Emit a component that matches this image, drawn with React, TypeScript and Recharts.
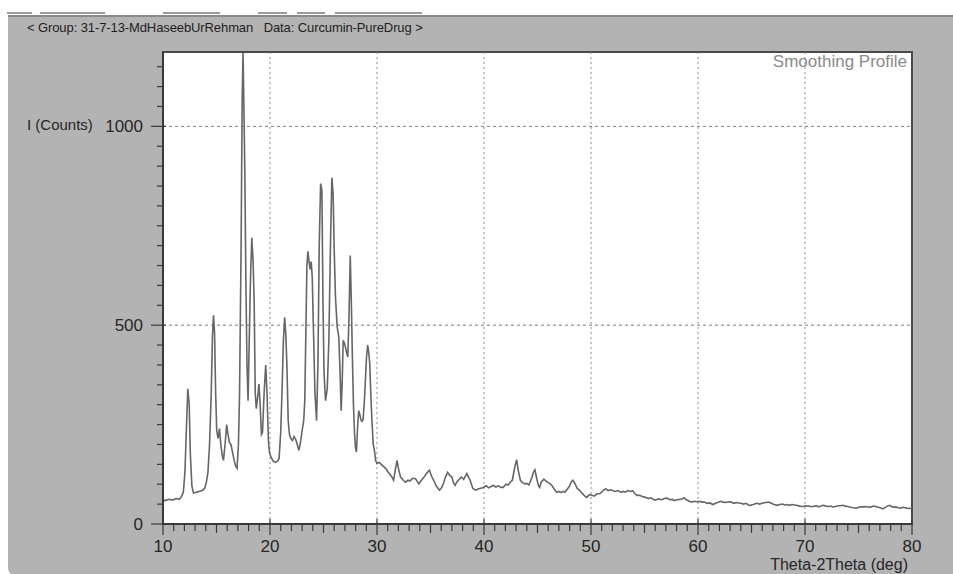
import { CartesianGrid, Line, LineChart, ReferenceArea, ReferenceLine, XAxis, YAxis } from 'recharts'

// XRD scan, curcumin pure drug: 2θ (deg) vs intensity (counts)
const PEAK_THETA = [
  10.0, 10.3, 10.6, 10.9, 11.2, 11.5, 11.7, 11.9, 12.05, 12.2, 12.32, 12.45, 12.55, 12.7, 12.85, 13.1, 13.4, 13.7, 13.9,
  14.05, 14.2, 14.35, 14.5, 14.62, 14.72, 14.82, 14.92, 15.02, 15.15, 15.28, 15.4, 15.55, 15.65, 15.8, 15.95, 16.05, 16.2,
  16.35, 16.5, 16.65, 16.8, 16.92, 17.05, 17.15, 17.3, 17.4, 17.48, 17.56, 17.65, 17.75, 17.85, 17.95, 18.05, 18.18, 18.3,
  18.42, 18.52, 18.62, 18.72, 18.85, 18.97, 19.08, 19.2, 19.3, 19.45, 19.6, 19.72, 19.85, 19.95, 20.1, 20.3, 20.5, 20.7,
  20.85, 21.0, 21.12, 21.25, 21.37, 21.47, 21.58, 21.7, 21.82, 21.95, 22.1, 22.25, 22.4, 22.55, 22.7, 22.85, 23.0, 23.15,
  23.25, 23.35, 23.45, 23.54, 23.65, 23.75, 23.85, 23.95, 24.05, 24.2, 24.35, 24.48, 24.6, 24.73, 24.85, 24.95, 25.05,
  25.19, 25.35, 25.5, 25.65, 25.78, 25.9, 26.0, 26.12, 26.28, 26.43, 26.55, 26.65, 26.75, 26.84, 26.95, 27.05, 27.17,
  27.27, 27.38, 27.5, 27.6, 27.7, 27.8, 27.9, 28.0, 28.08, 28.18, 28.29, 28.4, 28.5, 28.6, 28.7, 28.8, 28.9, 29.02, 29.13,
  29.23, 29.32, 29.43, 29.54, 29.65, 29.76, 29.87,
]
const PEAK_COUNTS = [
  58, 60, 62, 60, 64, 62, 68, 80, 130, 250, 340, 300, 180, 95, 78, 80, 82, 85, 90,
  105, 130, 200, 320, 470, 525, 480, 330, 235, 215, 240, 200, 170, 160, 200, 250, 230, 205,
  200, 180, 160, 145, 140, 200, 320, 700, 1070, 1185, 1050, 880, 600, 400, 310, 450, 620, 720,
  660, 560, 330, 290, 320, 352, 300, 225, 230, 330, 400, 330, 210, 180, 168, 158, 155, 158,
  165, 230, 330, 460, 520, 480, 400, 260, 225, 215, 210, 220, 213, 200, 185, 205, 235, 260,
  310, 480, 650, 686, 660, 640, 660, 620, 500, 330, 260, 400, 700, 856, 840, 560, 380,
  310, 340, 460, 700, 871, 830, 690, 570, 495, 470, 380, 285, 360, 462, 455, 445, 430,
  420, 520, 675, 560, 420, 300, 227, 190, 181, 240, 285, 275, 262, 258, 262, 300, 352, 420, 450,
  430, 405, 320, 252, 200, 185, 160,
]

const TAIL_THETA = [
  30.0, 30.2, 30.4, 30.6, 30.8, 31.0, 31.2, 31.4, 31.55, 31.7, 31.87, 32.0, 32.2, 32.4, 32.65, 32.9, 33.1, 33.3, 33.6,
  33.9, 34.15, 34.4, 34.65, 34.9, 35.1, 35.3, 35.55, 35.85, 36.05, 36.2, 36.4, 36.6, 36.8, 37.0, 37.15, 37.3, 37.45, 37.6,
  37.75, 37.9, 38.1, 38.25, 38.4, 38.55, 38.7, 38.95, 39.2, 39.45, 39.7, 39.95, 40.2, 40.45, 40.7, 40.9, 41.1, 41.35, 41.6,
  41.8, 42.05, 42.25, 42.45, 42.65, 42.85, 43.05, 43.2, 43.4, 43.6, 43.85, 44.0, 44.2, 44.45, 44.62, 44.76, 44.95, 45.1,
  45.2, 45.35, 45.6, 45.8, 46.0, 46.2, 46.4, 46.6, 46.8, 47.0, 47.2, 47.4, 47.56, 47.8, 48.0, 48.15, 48.3, 48.5, 48.7,
  48.95, 49.15, 49.35, 49.6, 49.85, 50.1, 50.3, 50.55, 50.8, 51.0, 51.2, 51.4, 51.6, 51.8, 52.0, 52.25, 52.5, 52.8, 53.0,
  53.2, 53.45, 53.7, 53.9, 54.1, 54.3, 54.55, 54.8, 55.1, 55.35, 55.6, 55.8, 56.0, 56.3, 56.6, 56.85, 57.1, 57.35, 57.6,
  57.8, 58.05, 58.3, 58.5, 58.7, 58.9, 59.15, 59.4, 59.65, 59.9, 60.15, 60.4, 60.6, 60.85, 61.1, 61.4, 61.65, 61.9, 62.1,
  62.35, 62.6, 62.85, 63.1, 63.35, 63.6, 63.8, 64.0, 64.25, 64.5, 64.7, 64.9, 65.15, 65.35, 65.5, 65.75, 66.0, 66.3, 66.6,
  66.85, 67.1, 67.4, 67.65, 67.9, 68.1, 68.3, 68.55, 68.8, 69.0, 69.2, 69.5, 69.8, 70.05, 70.3, 70.55, 70.8, 71.05, 71.3,
  71.5, 71.7, 71.95, 72.2, 72.4, 72.6, 72.85, 73.1, 73.3, 73.5, 73.75, 74.0, 74.25, 74.5, 74.8, 75.0, 75.25, 75.5, 75.7,
  75.95, 76.2, 76.4, 76.6, 76.85, 77.1, 77.3, 77.5, 77.7, 77.9, 78.1, 78.3, 78.5, 78.7, 78.95, 79.2, 79.5, 79.75, 80.0,
]
const TAIL_COUNTS = [
  152, 155, 150, 145, 140, 132, 125, 118, 110, 135, 160, 140, 118, 112, 105, 110, 108, 115, 114,
  101, 110, 118, 128, 135, 120, 110, 95, 85, 92, 101, 118, 130, 122, 118, 104, 97, 105, 110,
  114, 118, 112, 120, 127, 118, 110, 90, 85, 88, 90, 92, 96, 91, 95, 97, 93, 96, 92,
  92, 100, 98, 105, 110, 140, 162, 135, 110, 104, 101, 102, 98, 115, 130, 136, 112, 96,
  92, 105, 113, 108, 104, 101, 95, 86, 80, 82, 79, 82, 80, 88, 96, 106, 110, 102, 90,
  84, 78, 72, 67, 74, 72, 70, 76, 76, 80, 86, 88, 84, 86, 84, 82, 84, 80, 82,
  80, 84, 82, 84, 76, 72, 72, 69, 67, 64, 66, 62, 60, 63, 61, 64, 65, 61, 62,
  59, 61, 62, 63, 66, 61, 58, 55, 57, 56, 57, 55, 55, 52, 53, 49, 52, 55, 57,
  55, 54, 56, 55, 52, 54, 53, 52, 50, 52, 48, 47, 49, 51, 52, 50, 52, 54, 55,
  52, 49, 47, 49, 50, 48, 49, 47, 49, 48, 47, 45, 44, 46, 45, 44, 44, 46, 43,
  45, 47, 45, 44, 45, 43, 44, 46, 46, 47, 45, 44, 42, 41, 40, 42, 43, 43, 44,
  42, 43, 45, 44, 42, 40, 38, 42, 45, 47, 44, 42, 43, 41, 40, 42, 40, 39, 40,
]

const X_MAJOR_TICKS = [10, 20, 30, 40, 50, 60, 70, 80]
const X_GRID = [20, 30, 40, 50, 60, 70]
const Y_MAJOR_TICKS = [0, 500, 1000]
const Y_GRID = [500, 1000]
const Y_MAX = 1187

const FONT = "'Liberation Sans', Arial, sans-serif"
const AXIS_DARK = '#3a3a3a'
const PANEL_GRAY = '#b3b3b3'

const data = [...PEAK_THETA, ...TAIL_THETA].map((theta, i) => ({
  theta,
  counts: i < PEAK_THETA.length ? PEAK_COUNTS[i] : TAIL_COUNTS[i - PEAK_THETA.length],
}))

const xTicks = Array.from({ length: 71 }, (_, i) => 10 + i)
const yTicks = Array.from({ length: 24 }, (_, i) => i * 50)

function XTick({ x, y, payload }: any) {
  const v = payload.value
  const major = X_MAJOR_TICKS.includes(v)
  const mid = v % 5 === 0
  return (
    <g>
      <line x1={x} x2={x} y1={major ? y - 5 : y + 1} y2={y + (major ? 11 : mid ? 9 : 7)} stroke={AXIS_DARK} strokeWidth={1.2} />
      {major && (
        <text x={x} y={y + 28} textAnchor="middle" fontSize={17} fill="#262626" fontFamily={FONT}>
          {v}
        </text>
      )}
    </g>
  )
}

function YTick({ x, y, payload }: any) {
  const v = payload.value
  const major = Y_MAJOR_TICKS.includes(v)
  return (
    <g>
      <line x1={major ? x - 12 : x - 6} x2={major ? x + 3 : x - 1} y1={y} y2={y} stroke={AXIS_DARK} strokeWidth={1.2} />
      {major && (
        <text x={x - 20} y={y + 6} textAnchor="end" fontSize={17} fill="#262626" fontFamily={FONT}>
          {v}
        </text>
      )}
    </g>
  )
}

export default function App() {
  return (
    <div style={{ position: 'absolute', left: 0, top: 0, width: 953, height: 574, background: '#fff', overflow: 'hidden' }}>
      {/* window tabs strip */}
      {[[7, 25], [40, 65], [163, 57], [258, 29], [297, 28], [335, 87]].map(([l, w]) => (
        <div key={l} style={{ position: 'absolute', left: l, top: 12, width: w, height: 2, background: '#9a9a9a' }} />
      ))}
      <div
        style={{
          position: 'absolute',
          left: 8,
          top: 15,
          width: 945,
          height: 559,
          background: PANEL_GRAY,
          borderTop: '2px solid #8a8a8a',
          borderBottomLeftRadius: 8,
        }}
      />
      <div style={{ position: 'absolute', left: 27, top: 20, fontFamily: FONT, fontSize: 13, color: '#1e1e1e', whiteSpace: 'pre', letterSpacing: -0.1 }}>
        {'< Group: 31-7-13-MdHaseebUrRehman   Data: Curcumin-PureDrug >'}
      </div>
      <div style={{ position: 'absolute', left: 27, top: 116, fontFamily: FONT, fontSize: 15, color: '#262626' }}>I (Counts)</div>

      <div style={{ position: 'absolute', left: 0, top: 0 }}>
        <LineChart width={953} height={574} data={data} margin={{ top: 52, right: 41, bottom: 0, left: 0 }}>
          <CartesianGrid fill="#ffffff" horizontal={false} vertical={false} />
          {Y_GRID.map((v) => (
            <ReferenceLine key={`h${v}`} y={v} stroke="#7c7c7c" strokeDasharray="3 3" strokeWidth={1} />
          ))}
          {X_GRID.map((v) => (
            <ReferenceLine key={`v${v}`} x={v} stroke="#8a8a8a" strokeDasharray="2 3" strokeWidth={1} />
          ))}
          <XAxis
            type="number"
            dataKey="theta"
            domain={[10, 80]}
            ticks={xTicks}
            interval={0}
            tickSize={0}
            tickMargin={0}
            height={50}
            tick={<XTick />}
            axisLine={{ stroke: AXIS_DARK, strokeWidth: 2 }}
            allowDataOverflow
          />
          <YAxis
            type="number"
            domain={[0, Y_MAX]}
            ticks={yTicks}
            interval={0}
            tickSize={0}
            tickMargin={0}
            width={163}
            tick={<YTick />}
            axisLine={{ stroke: AXIS_DARK, strokeWidth: 2 }}
            allowDataOverflow
          />
          <Line
            type="linear"
            dataKey="counts"
            stroke="#666666"
            strokeWidth={1.6}
            dot={false}
            isAnimationActive={false}
          />
          <ReferenceArea x1={10} x2={80} y1={0} y2={Y_MAX} fill="none" stroke="#4a4a4a" strokeWidth={2} />
        </LineChart>
      </div>

      <div style={{ position: 'absolute', right: 46, top: 52, fontFamily: FONT, fontSize: 17, color: '#8a8a8a' }}>Smoothing Profile</div>
      <div style={{ position: 'absolute', right: 45, top: 557, fontFamily: FONT, fontSize: 16, lineHeight: '16px', color: '#262626' }}>
        Theta-2Theta (deg)
      </div>
    </div>
  )
}
